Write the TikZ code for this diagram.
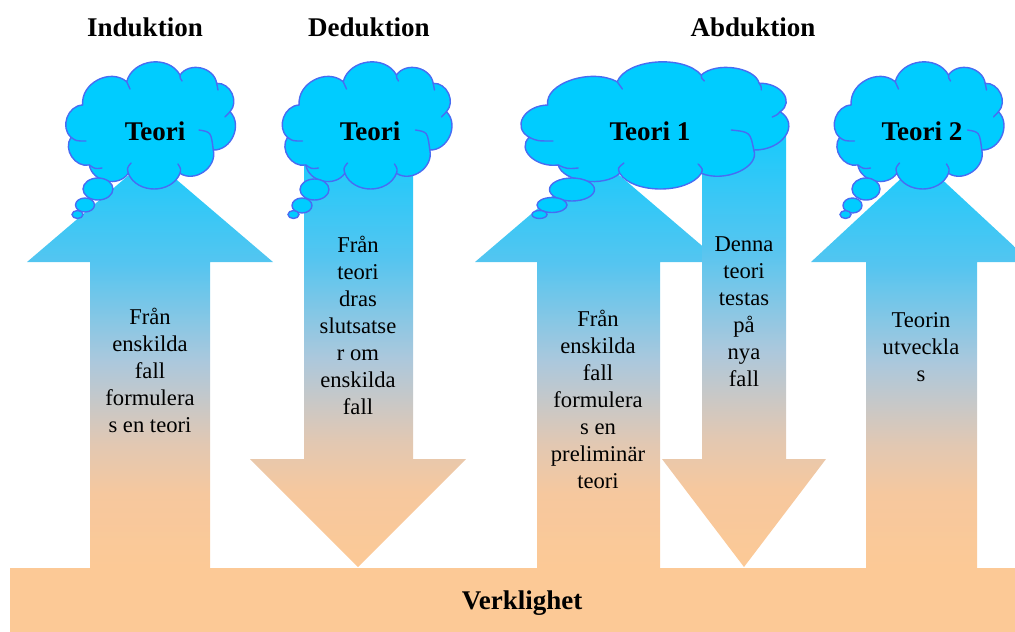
\documentclass[tikz,border=0pt]{standalone}
\usepackage{fontspec}
\setmainfont{Liberation Serif}
\usetikzlibrary{shapes.geometric}
\definecolor{skyfill}{RGB}{0,204,255}
\definecolor{cloudline}{RGB}{72,108,242}
\definecolor{peach}{RGB}{252,201,150}
% colour stops of the sky-to-ground gradient
\definecolor{gA}{RGB}{252,201,150}
\definecolor{gB}{RGB}{246,200,158}
\definecolor{gC}{RGB}{226,200,178}
\definecolor{gD}{RGB}{205,200,195}
\definecolor{gE}{RGB}{172,200,220}
\definecolor{gF}{RGB}{85,197,240}
\definecolor{gG}{RGB}{25,202,252}
\pgfdeclareverticalshading{skyground}{100bp}{color(0bp)=(gA); color(25bp)=(gA);
  color(34bp)=(gB); color(40bp)=(gC); color(44bp)=(gD); color(50bp)=(gE);
  color(62bp)=(gF); color(75bp)=(gG); color(100bp)=(gG)}

% a thought cloud drawn around the origin of the current scope
\newcommand\puffoutline{%
  (-68.3,-21) to[puff] (-24.3,-44.3) to[puff] (29,-51) to[puff] (65.7,-42.7)
  to[puff] (79,-14.3) to[puff] (62.3,24) to[puff] (29,47.3) to[puff] (-22.7,47.3)
  to[puff] (-61.7,39) to[puff] (-80,11.3) to[puff] cycle}
\newcommand\puffcreases{%
  (-80,11.3) .. controls (-75,15) .. (-65,15)
  (-61.7,39) .. controls (-56,43) .. (-49,42)
  (-22.7,47.3) .. controls (-24,42) .. (-20,37)
  (29,47.3) .. controls (30,43) .. (27,38)
  (48,4) .. controls (60,6) .. (62.3,24)
  (79,-14.3) .. controls (77,-11) .. (74,-9)
  (-24.3,-44.3) .. controls (-23,-40) .. (-21,-37)
  (29,-51) .. controls (29,-48) .. (31,-45)
  (65.7,-42.7) .. controls (67,-40) .. (67,-36)}

\begin{document}
\begin{tikzpicture}[x=1pt,y=-1pt,
  flow/.style={shading=skyground, draw=none},
  puff/.style={bend left=68, looseness=1.12},
  cloudedge/.style={fill=skyfill, draw=cloudline, line width=1.4pt, line join=round},
  crease/.style={draw=cloudline, line width=1.4pt, line cap=round},
  bubble/.style={ellipse, fill=skyfill, draw=cloudline, line width=1.4pt, inner sep=0pt},
  title/.style={font=\fontsize{27}{32}\selectfont\bfseries, inner sep=0pt},
  body/.style={font=\fontsize{22.6}{27}\selectfont, align=center, inner sep=0pt},
]
\useasboundingbox (0,0) rectangle (1015,632);
\clip (0,0) rectangle (1015,632);

% ground bar
\fill[peach] (10,568) rectangle (1015,632);
\node[title] (verk) at (522,603) {Verklighet};

% block arrows
\path[flow] (90,568) -- (90,262) -- (27,262) -- (150,157) -- (273,262) -- (210,262) -- (210,568) -- cycle;
\path[flow] (304,150) -- (304,459) -- (250,459) -- (358,567) -- (466,459) -- (413,459) -- (413,150) -- cycle;
\path[flow] (537,568) -- (537,262) -- (475,262) -- (598,157) -- (721,262) -- (660,262) -- (660,568) -- cycle;
\path[flow] (702,135) -- (702,459) -- (662,459) -- (744,567) -- (826,459) -- (786,459) -- (786,135) -- cycle;
\path[flow] (866,568) -- (866,262) -- (811,262) -- (921,160) -- (1031,262) -- (977,262) -- (977,568) -- cycle;

% column titles
\node[title] (ind) at (145,27) {Induktion};
\node[title] (ded) at (369,27) {Deduktion};
\node[title] (abd) at (753,27) {Abduktion};

% thought clouds with their bubbles
\begin{scope}[shift={(151,126)}]
  \path[cloudedge] \puffoutline; \path[crease] \puffcreases;
\end{scope}
\node[bubble, minimum width=30pt, minimum height=22pt] (c1a) at (98,189) {};
\node[bubble, minimum width=19pt, minimum height=14pt] (c1b) at (85,205) {};
\node[bubble, minimum width=11pt, minimum height=8pt] (c1c) at (77.5,214.5) {};

\begin{scope}[shift={(367.5,126)}]
  \path[cloudedge] \puffoutline; \path[crease] \puffcreases;
\end{scope}
\node[bubble, minimum width=29pt, minimum height=21pt] (c2a) at (314.5,189.5) {};
\node[bubble, minimum width=20pt, minimum height=15pt] (c2b) at (302,205.5) {};
\node[bubble, minimum width=11pt, minimum height=8pt] (c2c) at (293.5,214.5) {};

\begin{scope}[shift={(655.5,126)}, xscale=1.578]
  \path[cloudedge] \puffoutline; \path[crease] \puffcreases;
\end{scope}
\node[bubble, minimum width=45pt, minimum height=23pt] (c3a) at (572,189.5) {};
\node[bubble, minimum width=30pt, minimum height=15pt] (c3b) at (552,205) {};
\node[bubble, minimum width=15pt, minimum height=8pt] (c3c) at (539.5,214.5) {};

\begin{scope}[shift={(919.5,126)}]
  \path[cloudedge] \puffoutline; \path[crease] \puffcreases;
\end{scope}
\node[bubble, minimum width=28pt, minimum height=22pt] (c4a) at (866,189) {};
\node[bubble, minimum width=19pt, minimum height=15pt] (c4b) at (852.5,205.5) {};
\node[bubble, minimum width=11pt, minimum height=8pt] (c4c) at (845.5,214.5) {};

\node[title] (t1) at (155,131) {Teori};
\node[title] (t2) at (370,131) {Teori};
\node[title] (t3) at (650,131) {Teori 1};
\node[title] (t4) at (922,131) {Teori 2};

% arrow captions
\node[body] (x1) at (150,370) {Från\\enskilda\\fall\\formulera\\s en teori};
\node[body] (x2) at (358,325) {Från\\teori\\dras\\slutsatse\\r om\\enskilda\\fall};
\node[body] (x3) at (598,399) {Från\\enskilda\\fall\\formulera\\s en\\preliminär\\teori};
\node[body] (x4) at (744,312) {Denna\\teori\\testas\\på\\nya\\fall};
\node[body] (x5) at (921,347) {Teorin\\utveckla\\s};
\end{tikzpicture}
\end{document}
